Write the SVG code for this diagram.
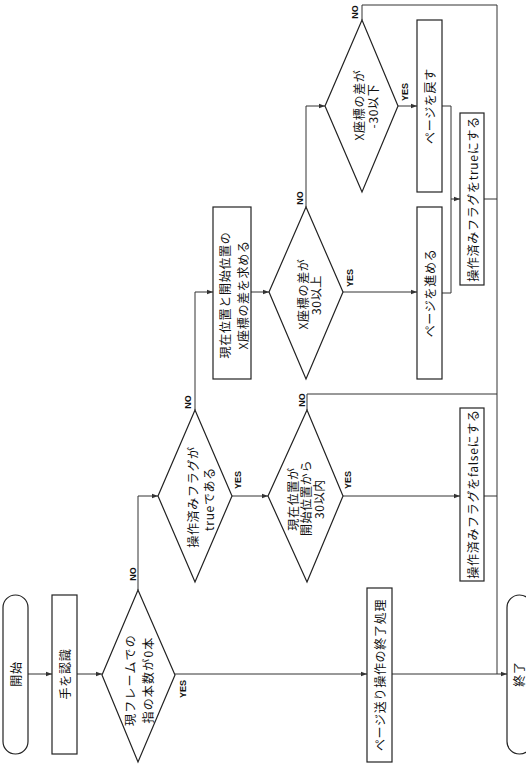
<svg xmlns="http://www.w3.org/2000/svg" width="526" height="767" viewBox="0 0 526 767">
<style>
.s{fill:#fff;stroke:#222;stroke-width:1.2}
.c{fill:none;stroke:#333;stroke-width:1}
.t{font-family:"Noto Sans CJK JP",sans-serif;font-size:12px;letter-spacing:0.7px;fill:#111;text-anchor:middle;dominant-baseline:central}
.l{font-family:"Liberation Sans",sans-serif;font-size:9px;font-weight:bold;fill:#111;text-anchor:middle;dominant-baseline:central}
</style>
<defs>
<marker id="a" markerWidth="6" markerHeight="6" refX="6" refY="3" orient="auto" markerUnits="userSpaceOnUse">
<path d="M0,0.8 L6,3 L0,5.2 Z" fill="#333"/>
</marker>
</defs>
<rect width="526" height="767" fill="#fff"/>
<g id="connectors">
<path class="c" d="M28,674 H52" marker-end="url(#a)"/>
<path class="c" d="M77,674 H102" marker-end="url(#a)"/>
<path class="c" d="M175,674 H367" marker-end="url(#a)"/>
<path class="c" d="M138,590 V496 H158" marker-end="url(#a)"/>
<path class="c" d="M232,496 H268" marker-end="url(#a)"/>
<path class="c" d="M195,410 V292 H213" marker-end="url(#a)"/>
<path class="c" d="M251,292 H269" marker-end="url(#a)"/>
<path class="c" d="M343,292 H417" marker-end="url(#a)"/>
<path class="c" d="M306,207 V106 H325" marker-end="url(#a)"/>
<path class="c" d="M398,106 H417" marker-end="url(#a)"/>
<path class="c" d="M362,20 V5 H497 V674"/>
<path class="c" d="M442,106 H451 V199 H460" marker-end="url(#a)"/>
<path class="c" d="M442,293 H451 V199"/>
<path class="c" d="M484,199 H497"/>
<path class="c" d="M343,496 H460" marker-end="url(#a)"/>
<path class="c" d="M484,496 H497"/>
<path class="c" d="M307,410 V394 H497"/>
<path class="c" d="M392,674 H507" marker-end="url(#a)"/>
<text class="l" transform="translate(133,574) rotate(-90)">NO</text>
<text class="l" transform="translate(183,689) rotate(-90)">YES</text>
<text class="l" transform="translate(188,402) rotate(-90)">NO</text>
<text class="l" transform="translate(238,480) rotate(-90)">YES</text>
<text class="l" transform="translate(302,400) rotate(-90)">NO</text>
<text class="l" transform="translate(348,480) rotate(-90)">YES</text>
<text class="l" transform="translate(300,198) rotate(-90)">NO</text>
<text class="l" transform="translate(350,278) rotate(-90)">YES</text>
<text class="l" transform="translate(355,12) rotate(-90)">NO</text>
<text class="l" transform="translate(405,92) rotate(-90)">YES</text>
</g>
<g id="start">
<rect class="s" x="3" y="595" width="25" height="159" rx="12.5"/>
<text class="t" transform="translate(15.5,674) rotate(-90)" font-size="13">開始</text>
</g>
<g id="recognize">
<rect class="s" x="52" y="595" width="25" height="159"/>
<text class="t" transform="translate(64.5,674) rotate(-90)" font-size="13">手を認識</text>
</g>
<g id="d1">
<path class="s" d="M102,675 L138,590 L175,675 L138,762 Z"/>
<text class="t" transform="translate(129,680) rotate(-90)" style="letter-spacing:1.2px">現フレームでの</text>
<text class="t" transform="translate(147,680) rotate(-90)" style="letter-spacing:1.2px">指の本数が0本</text>
</g>
<g id="d2">
<path class="s" d="M158,496 L195,410 L232,496 L195,582 Z"/>
<text class="t" transform="translate(192,497) rotate(-90)">操作済みフラグが</text>
<text class="t" transform="translate(208,499) rotate(-90)">trueである</text>
</g>
<g id="d3">
<path class="s" d="M268,496 L307,410 L343,496 L307,582 Z"/>
<text class="t" transform="translate(292,499) rotate(-90)" font-size="11.5">現在位置が</text>
<text class="t" transform="translate(305,498) rotate(-90)" font-size="11.5">開始位置から</text>
<text class="t" transform="translate(318,499) rotate(-90)" font-size="11.5">30以内</text>
</g>
<g id="diffbox">
<rect class="s" x="213" y="207" width="38" height="172"/>
<text class="t" transform="translate(224,295) rotate(-90)">現在位置と開始位置の</text>
<text class="t" transform="translate(242,295) rotate(-90)">X座標の差を求める</text>
</g>
<g id="d5">
<path class="s" d="M269,292 L306,207 L343,292 L306,379 Z"/>
<text class="t" transform="translate(302,294) rotate(-90)">X座標の差が</text>
<text class="t" transform="translate(315,295) rotate(-90)">30以上</text>
</g>
<g id="d6">
<path class="s" d="M325,106 L362,20 L398,106 L362,192 Z"/>
<text class="t" transform="translate(358,105) rotate(-90)">X座標の差が</text>
<text class="t" transform="translate(372,106) rotate(-90)">-30以下</text>
</g>
<g id="forward">
<rect class="s" x="417" y="207" width="25" height="172"/>
<text class="t" transform="translate(429.5,293) rotate(-90)">ページを進める</text>
</g>
<g id="back">
<rect class="s" x="417" y="20" width="25" height="172"/>
<text class="t" transform="translate(429.5,106) rotate(-90)">ページを戻す</text>
</g>
<g id="settrue">
<rect class="s" x="460" y="113" width="24" height="172"/>
<text class="t" transform="translate(472,199) rotate(-90)">操作済みフラグをtrueにする</text>
</g>
<g id="setfalse">
<rect class="s" x="460" y="408" width="24" height="173"/>
<text class="t" transform="translate(472,494) rotate(-90)">操作済みフラグをfalseにする</text>
</g>
<g id="endproc">
<rect class="s" x="367" y="588" width="25" height="174"/>
<text class="t" transform="translate(379.5,675) rotate(-90)">ページ送り操作の終了処理</text>
</g>
<g id="end">
<rect class="s" x="507" y="595" width="25" height="159" rx="12.5"/>
<text class="t" transform="translate(518,674) rotate(-90)" font-size="12">終了</text>
</g>
</svg>
